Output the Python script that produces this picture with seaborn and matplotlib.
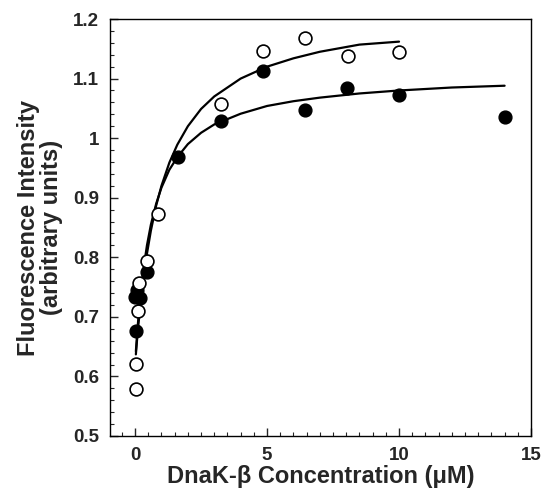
import matplotlib
matplotlib.use("Agg")
import matplotlib.pyplot as plt
from matplotlib.ticker import MultipleLocator, FuncFormatter
import seaborn as sns
import pandas as pd

# Open circles (data series 1)
open_x = [0.025, 0.05, 0.1, 0.15, 0.45, 0.85, 3.25, 4.84, 6.44, 8.05, 10.0]
open_y = [0.579, 0.621, 0.709, 0.756, 0.794, 0.873, 1.058, 1.147, 1.168, 1.138, 1.145]

# Filled circles (data series 2)
filled_x = [0.0, 0.03, 0.06, 0.19, 0.44, 1.64, 3.25, 4.84, 6.44, 8.03, 10.0, 14.0]
filled_y = [0.734, 0.677, 0.745, 0.731, 0.776, 0.969, 1.029, 1.113, 1.048, 1.085, 1.073, 1.035]

# Fitted curves, points
fit_open_x = [0.03, 0.1, 0.2, 0.3, 0.45, 0.6, 0.8, 1.0, 1.3, 1.6, 2.0, 2.5, 3.0, 4.0, 5.0, 6.0, 7.0, 8.5, 10.0]
fit_open_y = [0.637, 0.675, 0.72, 0.758, 0.806, 0.845, 0.887, 0.92, 0.959, 0.989, 1.02, 1.049, 1.07, 1.10, 1.12, 1.134, 1.145, 1.157, 1.162]
fit_filled_x = [0.03, 0.1, 0.2, 0.3, 0.45, 0.6, 0.8, 1.0, 1.3, 1.6, 2.0, 2.5, 3.0, 4.0, 5.0, 6.0, 7.0, 8.5, 10.0, 12.0, 14.0]
fit_filled_y = [0.642, 0.685, 0.735, 0.775, 0.82, 0.855, 0.89, 0.917, 0.947, 0.968, 0.99, 1.009, 1.023, 1.041, 1.054, 1.062, 1.068, 1.075, 1.08, 1.085, 1.088]

x_ticks = [0, 5, 10, 15]
y_ticks = [0.5, 0.6, 0.7, 0.8, 0.9, 1.0, 1.1, 1.2]

sns.set_style("white")
plt.rcParams['font.family'] = ['Liberation Sans', 'DejaVu Sans']
plt.rcParams['font.weight'] = 'bold'

fig = plt.figure(figsize=(5.46, 4.95), dpi=100)
ax = fig.add_axes([110/546, 1-436/495, (531-110)/546, (436-19)/495])

df_fo = pd.DataFrame({"x": fit_open_x, "y": fit_open_y})
df_ff = pd.DataFrame({"x": fit_filled_x, "y": fit_filled_y})
sns.lineplot(data=df_fo, x="x", y="y", ax=ax, color="black", lw=1.6, sort=False, estimator=None)
sns.lineplot(data=df_ff, x="x", y="y", ax=ax, color="black", lw=1.6, sort=False, estimator=None)

df_o = pd.DataFrame({"x": open_x, "y": open_y})
df_f = pd.DataFrame({"x": filled_x, "y": filled_y})
sns.scatterplot(data=df_f, x="x", y="y", ax=ax, s=85, color="black", edgecolor="black", linewidth=1.0, zorder=3)
sns.scatterplot(data=df_o, x="x", y="y", ax=ax, s=85, facecolor="white", edgecolor="black", linewidth=1.2, zorder=4)

ax.set_xlim(-0.95, 15)
ax.set_ylim(0.5, 1.2)
ax.set_xticks(x_ticks)
ax.set_yticks(y_ticks)
ax.xaxis.set_minor_locator(MultipleLocator(0.5))
ax.yaxis.set_minor_locator(MultipleLocator(0.02))
ax.yaxis.set_major_formatter(FuncFormatter(lambda v, p: "%g" % round(v, 2)))
ax.tick_params(axis='both', which='major', direction='in', length=6, width=1, labelsize=13.5, pad=8,
               bottom=True, left=True, top=False, right=False)
ax.tick_params(axis='both', which='minor', direction='in', length=3, width=0.8,
               bottom=True, left=True, top=False, right=False)
for lab in ax.get_xticklabels() + ax.get_yticklabels():
    lab.set_fontweight('bold')
for sp in ax.spines.values():
    sp.set_linewidth(1.0)
    sp.set_color("black")

ax.set_xlabel("DnaK-β Concentration (μM)", fontsize=17, fontweight='bold', labelpad=1)
ax.set_ylabel("Fluorescence Intensity\n(arbitrary units)", fontsize=17, fontweight='bold', labelpad=7,
              linespacing=1.0)

fig.savefig("out.png", dpi=100)
